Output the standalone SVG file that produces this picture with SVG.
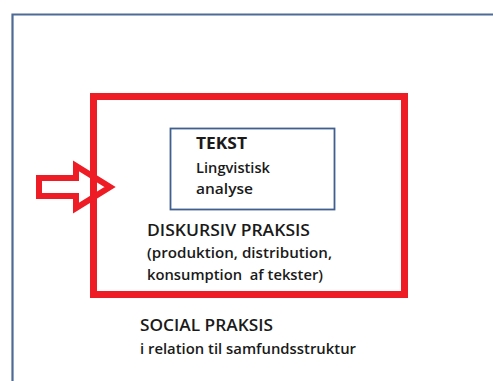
<svg xmlns="http://www.w3.org/2000/svg" width="493" height="381" viewBox="0 0 493 381">
  <style>
    .t { font-family: "Open Sans", "Liberation Sans", sans-serif; fill: #1a1a1a; }
    .h { font-size: 16px; font-weight: 600; }
    .s { font-size: 14px; font-weight: 600; }
  </style>
  <rect x="0" y="0" width="493" height="381" fill="#ffffff"/>
  <g id="social-praksis">
    <path d="M12.5 382 V14.5 H494" fill="none" stroke="#4d6b95" stroke-width="2.2"/>
    <text class="t h" x="140" y="331" textLength="133" lengthAdjust="spacingAndGlyphs">SOCIAL PRAKSIS</text>
    <text class="t s" x="140" y="354" textLength="216" lengthAdjust="spacingAndGlyphs">i relation til samfundsstruktur</text>
  </g>
  <g id="diskursiv-praksis">
    <rect x="93.5" y="96.5" width="311" height="198" fill="none" stroke="#ee1c25" stroke-width="7"/>
    <text class="t h" x="147" y="236" textLength="163" lengthAdjust="spacingAndGlyphs">DISKURSIV PRAKSIS</text>
    <text class="t s" x="147" y="258" textLength="185" lengthAdjust="spacingAndGlyphs">(produktion, distribution,</text>
    <text class="t s" x="147" y="280" textLength="176" lengthAdjust="spacingAndGlyphs" xml:space="preserve">konsumption  af tekster)</text>
  </g>
  <g id="tekst">
    <rect x="170.5" y="128.5" width="164" height="81" fill="#ffffff" stroke="#3f5f8f" stroke-width="1.8"/>
    <text class="t" x="196" y="149" font-size="16" font-weight="700" textLength="51" lengthAdjust="spacingAndGlyphs">TEKST</text>
    <text class="t s" x="196" y="173" textLength="74" lengthAdjust="spacingAndGlyphs">Lingvistisk</text>
    <text class="t s" x="196" y="194" textLength="57" lengthAdjust="spacingAndGlyphs">analyse</text>
  </g>
  <g id="connectors">
    <path d="M39 178 H76 V166 L110 187 L76 208 V196 H39 Z" fill="none" stroke="#ee1c25" stroke-width="6" stroke-linejoin="miter"/>
  </g>
</svg>
